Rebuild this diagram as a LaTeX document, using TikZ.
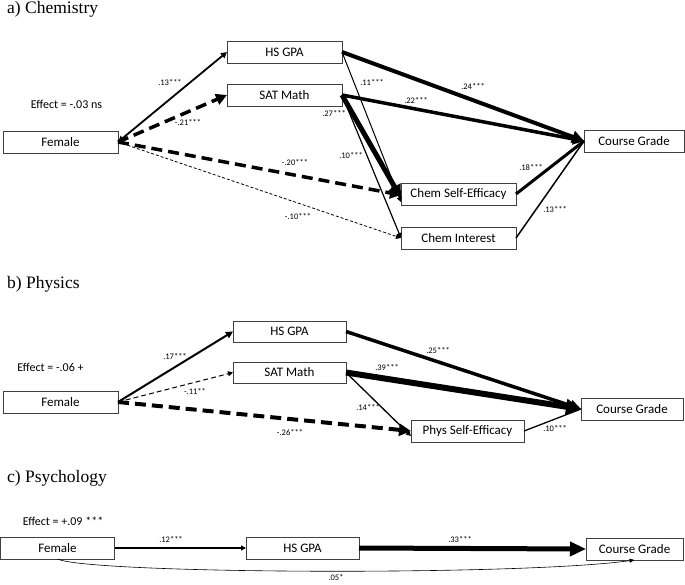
\documentclass[tikz,border=0pt]{standalone}
\usepackage{fontspec}
\newfontfamily\boxfont{Carlito}
\newfontfamily\titlefont{Liberation Serif}
\usetikzlibrary{arrows.meta}
\tikzset{
  box/.style={draw=black!75, line width=0.8pt, minimum height=22pt, minimum width=115pt, inner sep=0pt, outer sep=0pt, font=\boxfont\fontsize{13}{15}\selectfont},
  lab/.style={font=\boxfont\fontsize{8.5}{10}\selectfont, inner sep=0pt},
  eff/.style={font=\boxfont\fontsize{12}{14}\selectfont, inner sep=0pt},
  ttl/.style={font=\titlefont\fontsize{17.5}{20}\selectfont, inner sep=0pt, anchor=base west},
  tip/.style={-{Triangle[length=#1, width=#1]}},
  bigdash/.style={dash pattern=on 11pt off 6pt},
  smalldash/.style={dash pattern=on 3pt off 2pt},
  middash/.style={dash pattern=on 5pt off 3pt},
}
\begin{document}
\begin{tikzpicture}[x=1pt,y=-1pt]
\useasboundingbox (0,0) rectangle (685,584);
% ---------- a) Chemistry
\node[ttl] (ta) at (7,13) {a) Chemistry};
\node[box] (ahs) at (284.5,52) {HS GPA};
\node[box] (asat) at (284.5,95) {SAT Math};
\node[box] (af) at (60.5,142) {Female};
\node[box] (ase) at (458.5,194) {Chem Self-Efficacy};
\node[box] (aint) at (458.5,238) {Chem Interest};
\node[box, minimum width=100pt] (acg) at (634,141) {Course Grade};
\node[eff] (aeff) at (66.5,104) {Effect = -.03 ns};

\draw[line width=1.8pt, {Triangle[length=6pt,width=6pt]}-{Triangle[length=6pt,width=6pt]}] (af.east) -- (ahs.west);
\draw[line width=3.5pt, bigdash, tip=11pt] (af.east) -- (asat.west);
\draw[line width=3.5pt, bigdash, tip=11pt] (af.east) -- ([yshift=-1pt]ase.west);
\draw[line width=0.8pt, smalldash, tip=5pt] (af.east) -- (aint.west);
\draw[line width=4pt, tip=12pt] (ahs.east) -- (acg.west);
\draw[line width=3.5pt, tip=11pt] (asat.east) -- (acg.west);
\draw[line width=1pt, tip=5pt] (ahs.east) -- ([yshift=-8pt]ase.west);
\draw[line width=5pt, tip=13pt] (asat.east) -- ([yshift=-4pt]ase.west);
\draw[line width=1.2pt, tip=5pt] (asat.east) -- (aint.west);
\draw[line width=3pt] (ase.east) -- (acg.west);
\draw[line width=1.5pt] (aint.east) -- (acg.west);

\node[lab] (la1) at (170,83) {.13***};
\node[lab] (la2) at (188,123) {-.21***};
\node[lab] (la3) at (295,163) {-.20***};
\node[lab] (la4) at (298,217) {-.10***};
\node[lab] (la5) at (334,114) {.27***};
\node[lab] (la6) at (351,156) {.10***};
\node[lab] (la7) at (372,83) {.11***};
\node[lab] (la8) at (473,87) {.24***};
\node[lab] (la9) at (416,101) {.22***};
\node[lab] (la10) at (531,168) {.18***};
\node[lab] (la11) at (555,210) {.13***};

% ---------- b) Physics
\node[ttl] (tb) at (7,288) {b) Physics};
\node[box, minimum width=113pt, minimum height=21pt] (bhs) at (289.5,331.5) {HS GPA};
\node[box, minimum width=113pt, minimum height=21pt] (bsat) at (289.5,372.5) {SAT Math};
\node[box] (bf) at (60.5,402) {Female};
\node[box, minimum width=113pt] (bse) at (467.5,431) {Phys Self-Efficacy};
\node[box, minimum width=102pt] (bcg) at (632,409) {Course Grade};
\node[eff] (beff) at (50.5,367) {Effect = -.06 +};

\draw[line width=2pt, tip=7pt] (bf.east) -- (bhs.west);
\draw[line width=1pt, middash, tip=5pt] (bf.east) -- (bsat.west);
\draw[line width=4pt, bigdash, tip=12pt] (bf.east) -- (bse.west);
\draw[line width=3.5pt, tip=11pt] (bhs.east) -- (bcg.west);
\draw[line width=6pt, tip=15pt] (bsat.east) -- (bcg.west);
\draw[line width=1.3pt, tip=5pt] (bsat.east) -- ([yshift=-5pt]bse.west);
\draw[line width=1.3pt] (bse.east) -- (bcg.west);

\node[lab] (lb1) at (175,357) {.17***};
\node[lab] (lb2) at (195,392) {-.11**};
\node[lab] (lb3) at (290,433) {-.26***};
\node[lab] (lb4) at (438,351) {.25***};
\node[lab] (lb5) at (387,368) {.39***};
\node[lab] (lb6) at (368,408) {.14***};
\node[lab] (lb7) at (555,429) {.10***};

% ---------- c) Psychology
\node[ttl] (tc) at (7,482) {c) Psychology};
\node[eff] (ceff) at (63,521) {Effect = +.09 ***};
\node[box, minimum width=114pt] (cf) at (57.5,548) {Female};
\node[box, minimum width=113pt] (chs) at (302.5,548) {HS GPA};
\node[box, minimum width=97pt] (ccg) at (634.5,549) {Course Grade};

\draw[line width=1.5pt, tip=5pt] (cf.east) -- (chs.west);
\draw[line width=5pt, -{Triangle[length=16pt,width=14pt]}] (chs.east) -- (ccg.west);
\draw[line width=0.6pt, -{Triangle[length=5pt,width=4pt]}] (cf.south) .. controls (90,574) and (520,576) .. (ccg.south);

\node[lab] (lc1) at (171,540) {.12***};
\node[lab] (lc2) at (460,540) {.33***};
\node[lab] (lc3) at (336,578) {.05*};
\end{tikzpicture}
\end{document}
